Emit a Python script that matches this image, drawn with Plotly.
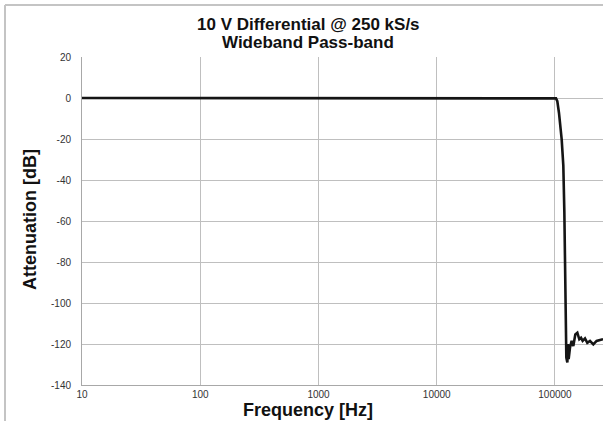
import plotly.graph_objects as go

# Data
freq_hz = [10, 100, 1000, 10000, 100000, 102000, 104600, 108100, 113900, 117600,
           120000, 121500, 123100, 124700, 127200, 128800, 130500, 133900, 138300,
           142900, 148600, 154500, 160600, 166000, 171400, 179400, 187600, 197700,
           210900, 225000, 240300, 254700]
atten_db = [0, 0, 0, 0, 0, -0.2, -1.5, -7.3, -20.2, -33,
            -55.6, -88, -117, -126.6, -129, -120, -127.4, -121.8, -118.5,
            -121, -115.3, -114.5, -117.7, -117, -118.5, -117.3, -119.4, -118.5,
            -120.2, -118.5, -118, -117.7]

x_tickvals = [10, 100, 1000, 10000, 100000]
x_ticktext = ["10", "100", "1000", "10000", "100000"]
y_tickvals = [20, 0, -20, -40, -60, -80, -100, -120, -140]
y_ticktext = ["20", "0", "-20", "-40", "-60", "-80", "-100", "-120", "-140"]

title_line1 = "10 V Differential @ 250 kS/s"
title_line2 = "Wideband Pass-band"
x_title = "Frequency [Hz]"
y_title = "Attenuation [dB]"

FONT = "Liberation Sans, Arial, sans-serif"
GRID = "#bfbfbf"

# plot area in page pixels: x 82..603, y 57..385
PW, PH = 521, 328


def px(x):
    return (x - 82) / PW


def py(y):
    return (385 - y) / PH


fig = go.Figure()
fig.add_trace(go.Scatter(x=freq_hz, y=atten_db, mode="lines",
                         line=dict(color="#151515", width=2.6),
                         showlegend=False, hoverinfo="skip"))

fig.update_layout(
    width=603, height=421,
    margin=dict(l=82, r=0, t=57, b=36),
    paper_bgcolor="white", plot_bgcolor="white",
    font=dict(family=FONT, color="#333333", size=10),
    xaxis=dict(type="log", range=[1, 5.406], tickvals=x_tickvals, ticktext=x_ticktext,
               showgrid=True, gridcolor=GRID, gridwidth=1,
               showline=True, linecolor="#a8a8a8", linewidth=1,
               ticks="", tickfont=dict(size=10, color="#333333"),
               ticklabelstandoff=0, zeroline=False),
    yaxis=dict(range=[-140, 20], tickvals=y_tickvals, ticktext=y_ticktext,
               showgrid=True, gridcolor=GRID, gridwidth=1,
               showline=True, linecolor="#a8a8a8", linewidth=1,
               ticks="", tickfont=dict(size=10, color="#333333"),
               ticklabelstandoff=8, zeroline=False),
    annotations=[
        dict(text=title_line1, xref="paper", yref="paper", x=px(308), y=py(25),
             xanchor="center", yanchor="middle", showarrow=False,
             font=dict(family=FONT, size=17, color="#111111", weight="bold")),
        dict(text=title_line2, xref="paper", yref="paper", x=px(308), y=py(42.5),
             xanchor="center", yanchor="middle", showarrow=False,
             font=dict(family=FONT, size=17, color="#111111", weight="bold")),
        dict(text=x_title, xref="paper", yref="paper", x=px(308), y=py(410.5),
             xanchor="center", yanchor="middle", showarrow=False,
             font=dict(family=FONT, size=18, color="#111111", weight="bold")),
        dict(text=y_title, xref="paper", yref="paper", x=px(30), y=py(220),
             xanchor="center", yanchor="middle", showarrow=False, textangle=-90,
             font=dict(family=FONT, size=18, color="#111111", weight="bold")),
    ],
    shapes=[
        dict(type="line", xref="paper", yref="paper",
             x0=px(5), x1=1.2, y0=py(5), y1=py(5),
             line=dict(color="#c4c4c4", width=2)),
        dict(type="line", xref="paper", yref="paper",
             x0=px(5), x1=px(5), y0=py(5), y1=-0.3,
             line=dict(color="#c4c4c4", width=2)),
    ],
)

fig.write_html("out.html", config={"displayModeBar": False},
               post_script="document.body.style.margin='0';")
